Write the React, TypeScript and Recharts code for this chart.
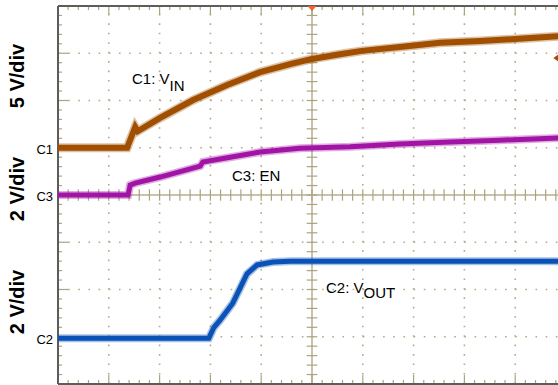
import React from "react";
import { ComposedChart, Line, XAxis, YAxis, ReferenceLine, ReferenceDot } from "recharts";

// Time in horizontal divisions (10 div across), amplitude in vertical divisions (8 div tall)
const TIME_C1 = [0, 1.36, 1.52, 1.57, 2.01, 2.66, 3.33, 3.98, 4.57, 5.0, 5.55, 5.98, 6.73, 7.52, 8.31, 9.0, 10];
const VIN_DIV = [5.0, 5.0, 5.44, 5.35, 5.63, 6.01, 6.33, 6.6, 6.77, 6.88, 6.98, 7.05, 7.13, 7.22, 7.26, 7.3, 7.37];

const TIME_C3 = [0, 1.38, 1.42, 1.52, 2.01, 2.8, 2.85, 3.39, 3.98, 4.76, 5.75, 6.73, 7.72, 8.7, 10];
const EN_DIV = [4.0, 4.0, 4.21, 4.25, 4.38, 4.61, 4.7, 4.8, 4.91, 4.99, 5.02, 5.08, 5.12, 5.16, 5.21];

const TIME_C2 = [0, 2.97, 3.07, 3.19, 3.44, 3.72, 3.92, 4.23, 4.57, 10];
const VOUT_DIV = [0.97, 0.97, 1.2, 1.35, 1.71, 2.33, 2.52, 2.58, 2.6, 2.6];

const GRID_X = [1, 2, 3, 4, 6, 7, 8, 9];
const GRID_Y = [1, 2, 3, 5, 6, 7];
const CENTER_X = 5;
const CENTER_Y = 4;
const X_DIVS = 10;
const Y_DIVS = 8;

const c1 = TIME_C1.map((t, i) => ({ t, v: VIN_DIV[i] }));
const c3 = TIME_C3.map((t, i) => ({ t, v: EN_DIV[i] }));
const c2 = TIME_C2.map((t, i) => ({ t, v: VOUT_DIV[i] }));

const minorX = Array.from({ length: X_DIVS * 5 - 1 }, (_, i) => (i + 1) / 5);
const minorY = Array.from({ length: Y_DIVS * 5 - 1 }, (_, i) => (i + 1) / 5);
const isMajor = (v: number) => Math.abs(v - Math.round(v)) < 1e-6;

const GRID = "#b3ab88";
const TICK = "#aca47f";
const BORDER = "#5c5c5c";
const BROWN = "#a04f00";
const MAGENTA = "#a214a6";
const BLUE = "#0a52b6";

const W = 566;
const H = 385;

export default function App() {
  const tickLines: React.ReactNode[] = [];
  minorX.forEach((x, i) => {
    const topLen = isMajor(x) ? 0.19 : 0.085;
    tickLines.push(
      <ReferenceLine key={"tt" + i} segment={[{ x, y: Y_DIVS }, { x, y: Y_DIVS - topLen }]} stroke={TICK} strokeWidth={1.2} />
    );
    tickLines.push(
      <ReferenceLine key={"bt" + i} segment={[{ x, y: 0 }, { x, y: topLen }]} stroke={TICK} strokeWidth={1.2} />
    );
    tickLines.push(
      <ReferenceLine key={"ch" + i} segment={[{ x, y: CENTER_Y - 0.12 }, { x, y: CENTER_Y + 0.12 }]} stroke={TICK} strokeWidth={1.2} />
    );
  });
  minorY.forEach((y, i) => {
    const len = isMajor(y) ? 0.2 : 0.08;
    tickLines.push(
      <ReferenceLine key={"lt" + i} segment={[{ x: 0, y }, { x: len, y }]} stroke={TICK} strokeWidth={1.2} />
    );
    tickLines.push(
      <ReferenceLine key={"cv" + i} segment={[{ x: CENTER_X - 0.105, y }, { x: CENTER_X + 0.105, y }]} stroke={TICK} strokeWidth={1.2} />
    );
  });

  const font = "'Liberation Sans', Arial, sans-serif";

  return (
    <div style={{ position: "absolute", left: 0, top: 0, width: 558, height: 385, overflow: "hidden", background: "#fff" }}>
      <ComposedChart width={W} height={H} margin={{ top: 6, right: 0, bottom: 1, left: 58 }}>
        <XAxis type="number" dataKey="t" domain={[0, X_DIVS]} hide allowDataOverflow />
        <YAxis type="number" dataKey="v" domain={[0, Y_DIVS]} hide allowDataOverflow />
        {GRID_X.map((x) => (
          <ReferenceLine key={"gx" + x} x={x} stroke={GRID} strokeWidth={1.6} strokeDasharray="1.6 7.85" />
        ))}
        {GRID_Y.map((y) => (
          <ReferenceLine key={"gy" + y} y={y} stroke={GRID} strokeWidth={1.6} strokeDasharray="1.6 8.56" />
        ))}
        <ReferenceLine x={CENTER_X} stroke="#c9c3ab" strokeWidth={2} />
        <ReferenceLine y={CENTER_Y} stroke="#c9c3ab" strokeWidth={2} />
        {tickLines}
        <ReferenceLine y={Y_DIVS} stroke={BORDER} strokeWidth={2} />
        <ReferenceLine x={0} stroke={BORDER} strokeWidth={2} />
        <ReferenceLine y={0} stroke={BORDER} strokeWidth={2} />

        <Line data={c1} dataKey="v" type="linear" stroke={BROWN} strokeOpacity={0.35} strokeWidth={9} dot={false} isAnimationActive={false} />
        <Line data={c1} dataKey="v" type="linear" stroke={BROWN} strokeWidth={6} dot={false} isAnimationActive={false} />
        <Line data={c3} dataKey="v" type="linear" stroke={MAGENTA} strokeOpacity={0.35} strokeWidth={8} dot={false} isAnimationActive={false} />
        <Line data={c3} dataKey="v" type="linear" stroke={MAGENTA} strokeWidth={5} dot={false} isAnimationActive={false} />
        <Line data={c2} dataKey="v" type="linear" stroke={BLUE} strokeOpacity={0.35} strokeWidth={8} dot={false} isAnimationActive={false} />
        <Line data={c2} dataKey="v" type="linear" stroke={BLUE} strokeWidth={5} dot={false} isAnimationActive={false} />

        <ReferenceDot
          x={CENTER_X}
          y={Y_DIVS}
          ifOverflow="visible"
          shape={(p: any) => (
            <polygon points={`${p.cx - 4.5},${p.cy} ${p.cx + 4.5},${p.cy} ${p.cx},${p.cy + 5}`} fill="#f2622a" />
          )}
        />
        <ReferenceDot
          x={9.75}
          y={6.9}
          ifOverflow="visible"
          shape={(p: any) => (
            <g>
              <polygon points={`${p.cx},${p.cy} ${p.cx + 5},${p.cy - 3.5} ${p.cx + 5},${p.cy + 3.5}`} fill={BROWN} />
              <line x1={p.cx + 4} y1={p.cy} x2={p.cx + 9} y2={p.cy} stroke={BROWN} strokeWidth={2} />
            </g>
          )}
        />
      </ComposedChart>
      <svg width={558} height={385} style={{ position: "absolute", left: 0, top: 0, pointerEvents: "none" }}>
        <g fontFamily={font} fill="#000">
          <text transform="translate(17,76) rotate(-90)" textAnchor="middle" dominantBaseline="central" fontWeight="bold" fontSize={20}>5 V/div</text>
          <text transform="translate(17,189) rotate(-90)" textAnchor="middle" dominantBaseline="central" fontWeight="bold" fontSize={20}>2 V/div</text>
          <text transform="translate(17,302) rotate(-90)" textAnchor="middle" dominantBaseline="central" fontWeight="bold" fontSize={20}>2 V/div</text>
          <text x={53} y={149} textAnchor="end" dominantBaseline="central" fontSize={13}>C1</text>
          <text x={53} y={196} textAnchor="end" dominantBaseline="central" fontSize={13}>C3</text>
          <text x={53} y={339} textAnchor="end" dominantBaseline="central" fontSize={13}>C2</text>
          <text x={132} y={84} fontSize={15}>C1: V<tspan dy={7}>IN</tspan></text>
          <text x={232} y={181} fontSize={15}>C3: EN</text>
          <text x={326} y={293} fontSize={15}>C2: V<tspan dy={5}>OUT</tspan></text>
        </g>
      </svg>
    </div>
  );
}
